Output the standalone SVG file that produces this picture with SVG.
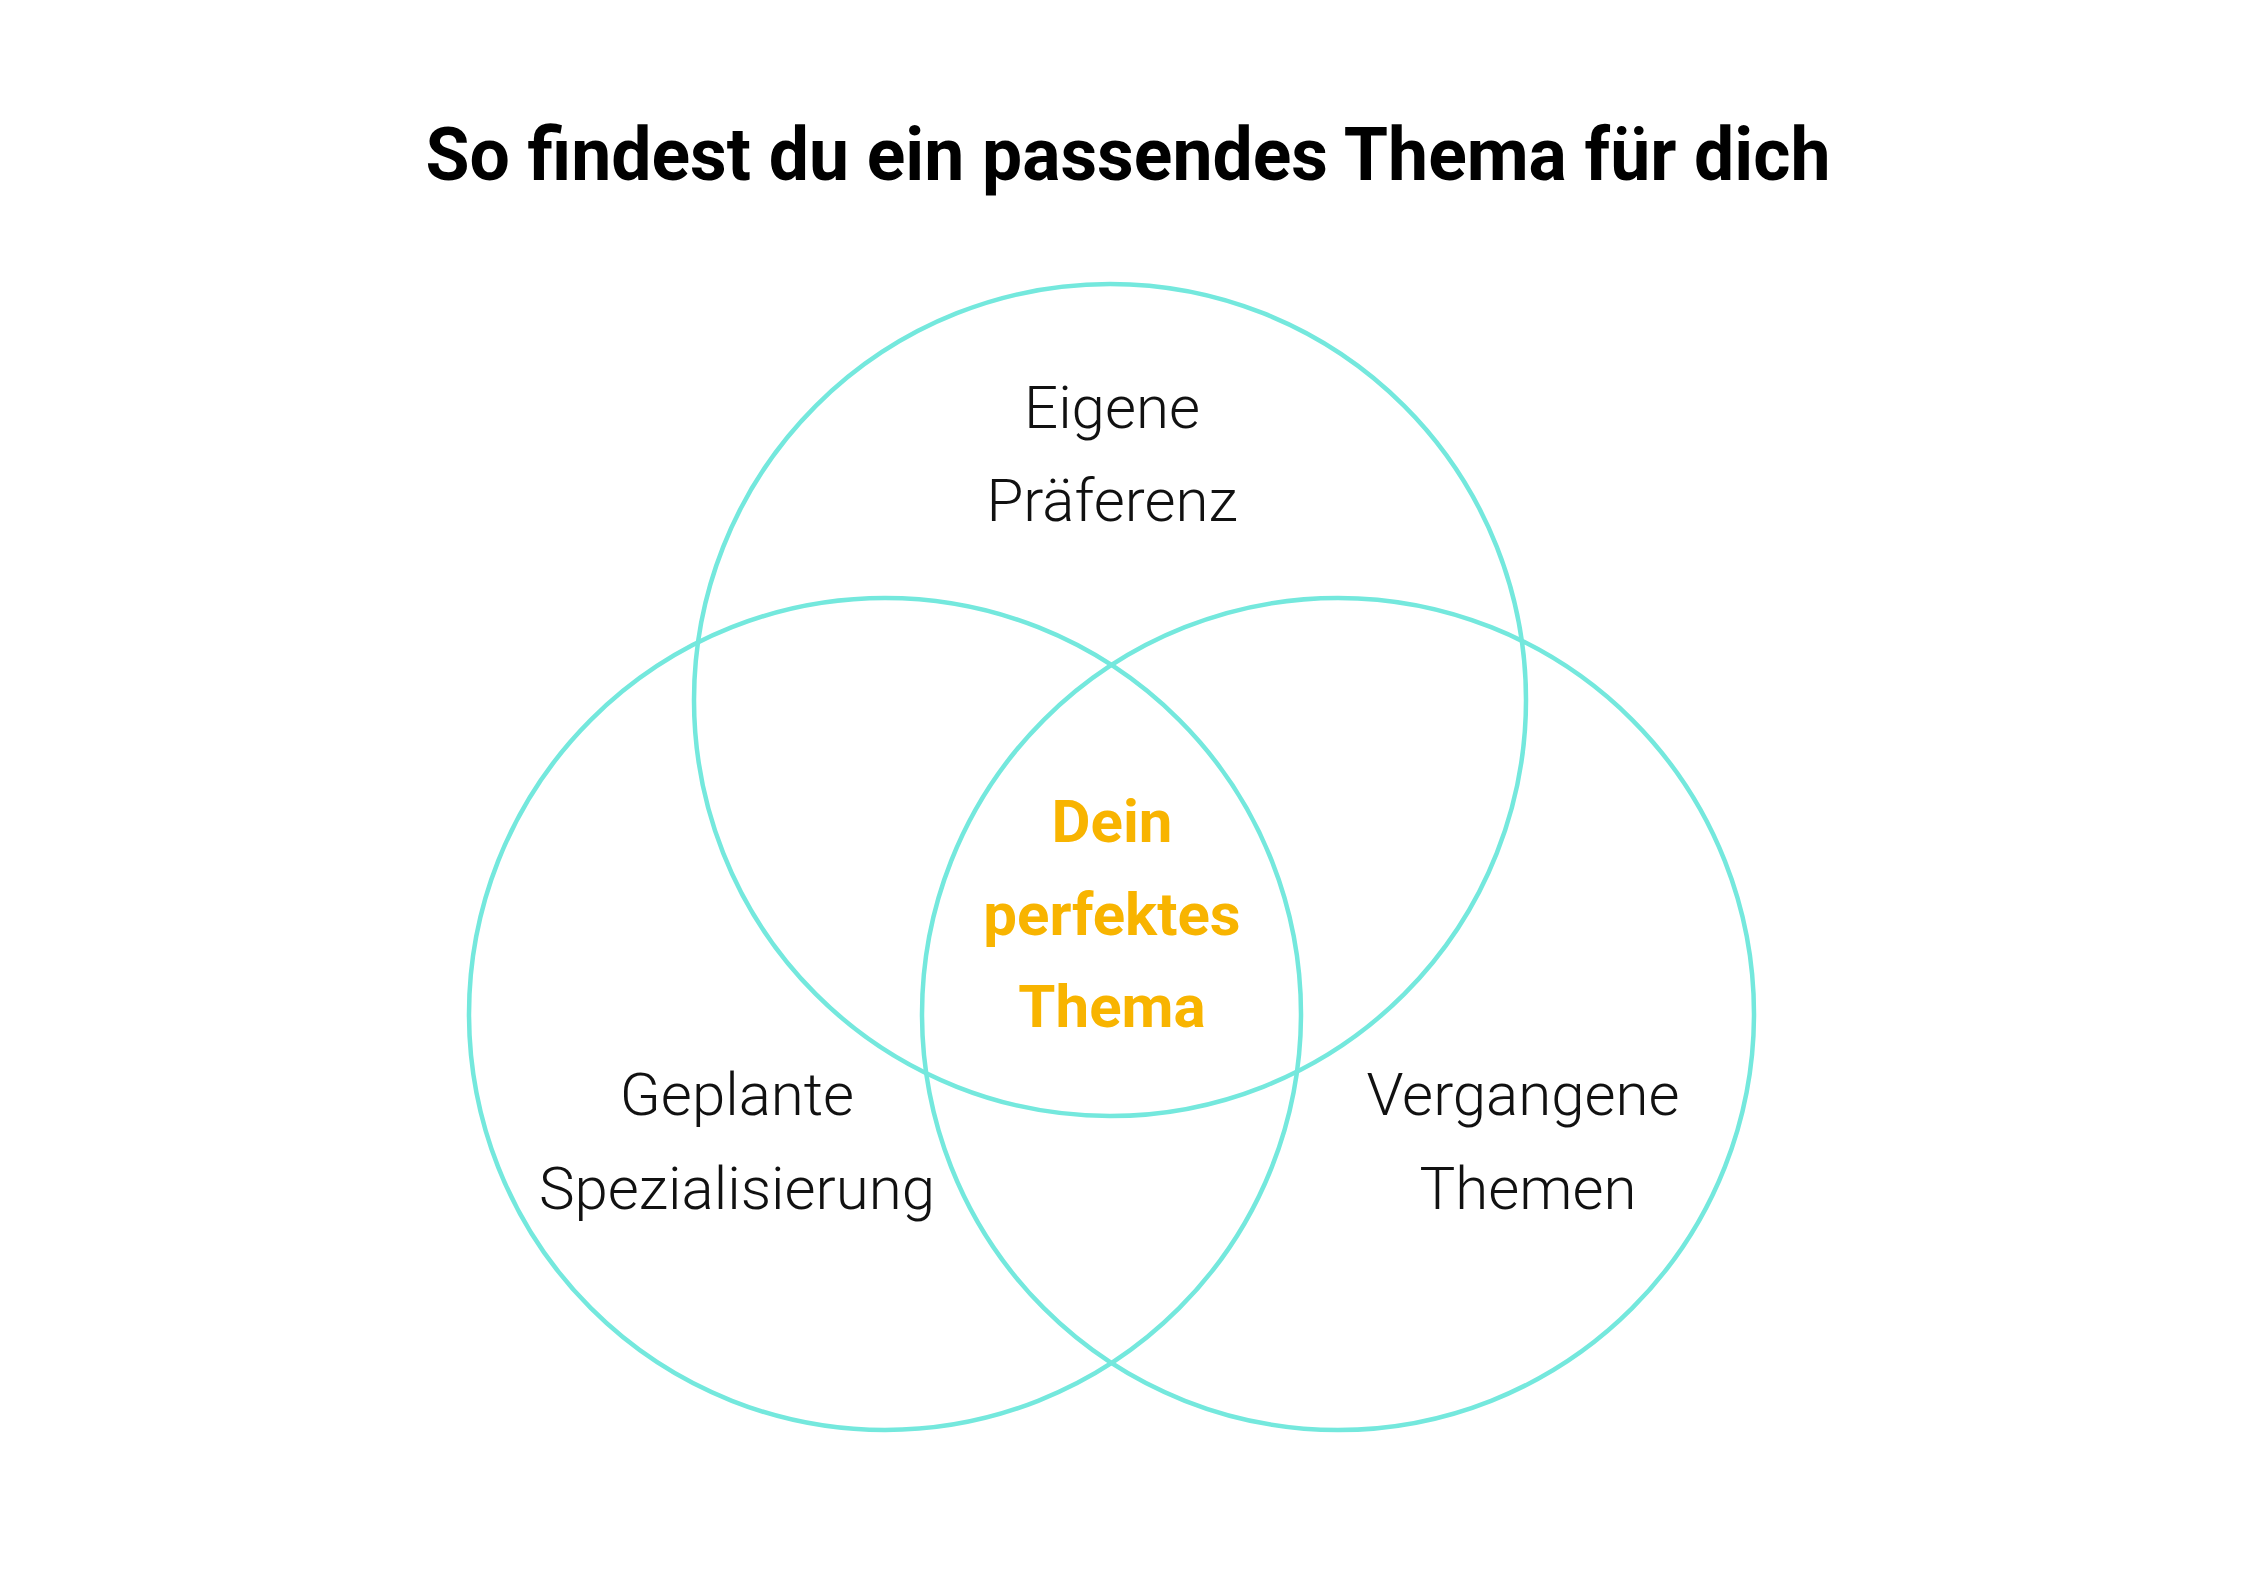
<svg xmlns="http://www.w3.org/2000/svg" width="2245" height="1587" viewBox="0 0 2245 1587">
<style>
.c{fill:none;stroke:#74e8dd;stroke-width:4.5}
.t{font-family:Roboto,"Liberation Sans",sans-serif;text-anchor:middle}
.l{font-size:60px;fill:#111;font-weight:300}
.h{font-size:60px;fill:#f8b400;font-weight:700}
</style>
<rect width="2245" height="1587" fill="#fff"/>
<text class="t" x="1128" y="180" font-size="74" font-weight="700" fill="#000" textLength="1405" lengthAdjust="spacingAndGlyphs">So findest du ein passendes Thema für dich</text>
<g id="connectors"></g>
<g id="top"><circle class="c" cx="1110" cy="700" r="416"/>
<text class="t l" x="1112" y="428">Eigene</text><text class="t l" x="1112" y="521">Präferenz</text></g>
<g id="left"><circle class="c" cx="885" cy="1014" r="416"/>
<text class="t l" x="737" y="1115">Geplante</text><text class="t l" x="737" y="1209">Spezialisierung</text></g>
<g id="right"><circle class="c" cx="1338" cy="1014" r="416"/>
<text class="t l" x="1523" y="1115">Vergangene</text><text class="t l" x="1528" y="1209">Themen</text></g>
<g id="center"><text class="t h" x="1112" y="842">Dein</text><text class="t h" x="1112" y="935">perfektes</text><text class="t h" x="1112" y="1027">Thema</text></g>
</svg>
